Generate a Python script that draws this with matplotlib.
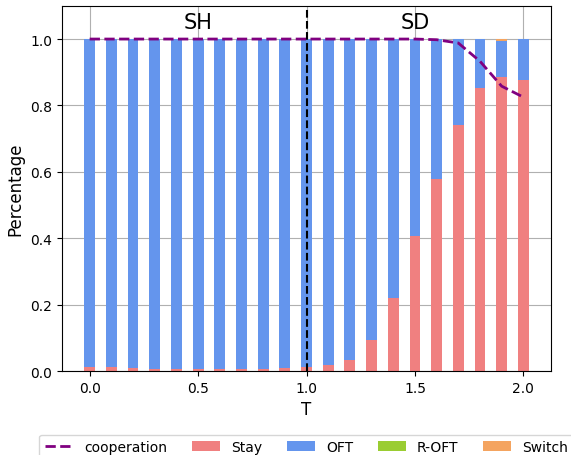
import numpy as np
import matplotlib
matplotlib.use("Agg")
from matplotlib import pyplot as plt

#---------------------------data----------------------------
T = [0.0, 0.1, 0.2, 0.3, 0.4, 0.5, 0.6, 0.7, 0.8, 0.9, 1.0,
     1.1, 1.2, 1.3, 1.4, 1.5, 1.6, 1.7, 1.8, 1.9, 2.0]
stay = [0.012, 0.012, 0.008, 0.007, 0.007, 0.007, 0.007, 0.007, 0.007, 0.008, 0.013,
        0.019, 0.033, 0.094, 0.22, 0.406, 0.58, 0.74, 0.852, 0.885, 0.876]
switch = [0, 0, 0, 0, 0, 0, 0, 0, 0, 0, 0,
          0, 0, 0, 0, 0, 0, 0, 0, 0.005, 0]
roft = [0] * 21
oft = [1 - s - w - r for s, w, r in zip(stay, switch, roft)]
cooperation = [1.0, 1.0, 1.0, 1.0, 1.0, 1.0, 1.0, 1.0, 1.0, 1.0, 1.0,
               1.0, 1.0, 1.0, 1.0, 1.0, 0.998, 0.988, 0.933, 0.858, 0.825]

#---------------------------plot----------------------------
fig = plt.figure(figsize=(5.71, 4.56), dpi=100)
ax = fig.add_axes([0.1086, 0.184, 0.8564, 0.801])
ax.set_axisbelow(True)
ax.grid(True)

w = 0.05
ax.plot(T, cooperation, linestyle="--", color="purple", linewidth=2, label="cooperation")
ax.bar(T, stay, width=w, color="lightcoral", label="Stay")
b1 = np.array(stay)
ax.bar(T, oft, width=w, bottom=b1, color="cornflowerblue", label="OFT")
b2 = b1 + np.array(oft)
ax.bar(T, roft, width=w, bottom=b2, color="yellowgreen", label="R-OFT")
b3 = b2 + np.array(roft)
ax.bar(T, switch, width=w, bottom=b3, color="sandybrown", label="Switch")

ax.axvline(1.0, color="black", linestyle="--", linewidth=1.5)
ax.text(0.5, 1.05, "SH", fontsize=15, ha="center", va="center")
ax.text(1.5, 1.05, "SD", fontsize=15, ha="center", va="center")

ax.set_ylim(0, 1.1)
ax.set_xlabel("T", fontsize=12)
ax.set_ylabel("Percentage", fontsize=12)
ax.legend(loc="upper center", bbox_to_anchor=(0.5, -0.155), ncol=5, fontsize=10,
          columnspacing=1.8)

fig.savefig("out.png", dpi=100)
